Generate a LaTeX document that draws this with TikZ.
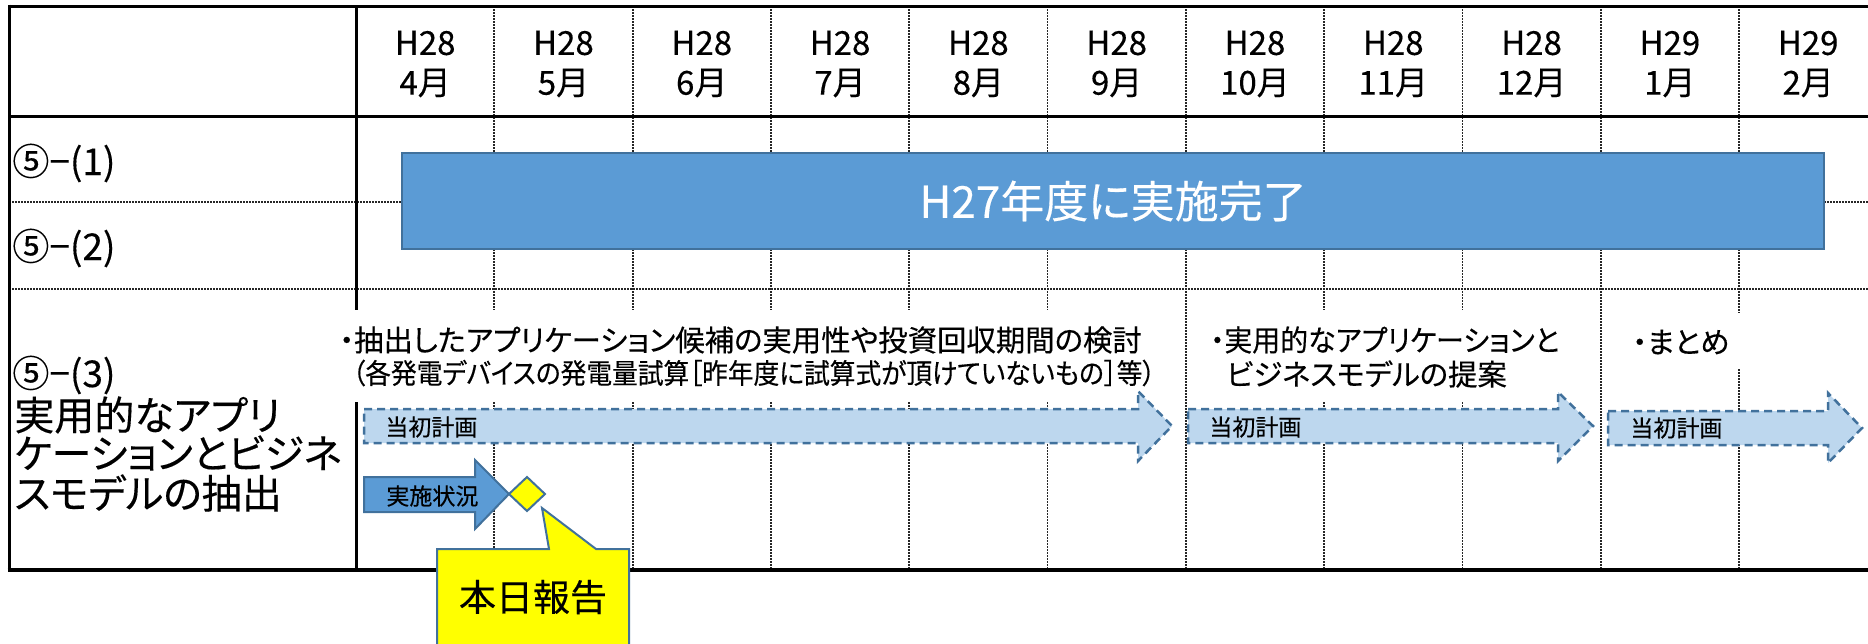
\documentclass[tikz,border=0pt]{standalone}
\usepackage{fontspec}
\setmainfont{Noto Sans CJK JP}[RawFeature=+palt,FakeBold=0.3]
\definecolor{boxblue}{HTML}{5B9BD5}
\definecolor{edgeblue}{HTML}{41719C}
\definecolor{planfill}{HTML}{BDD7EE}
\definecolor{callyellow}{HTML}{FFFF00}
\begin{document}
\begin{tikzpicture}[x=0.5pt,y=-0.5pt,
  border/.style={line width=1.5pt,black},
  gridline/.style={line width=0.9pt,black!85,dash pattern=on 0.75pt off 0.75pt},
  hdr/.style={inner sep=0pt,font=\fontsize{16.5}{18}\selectfont},
  lbl/.style={inner sep=0pt,anchor=west,font=\fontsize{18.5}{20}\selectfont},
  biglbl/.style={inner sep=0pt,anchor=west,font=\fontsize{20}{24}\selectfont},
  task/.style={inner sep=0pt,anchor=west,font=\fontsize{14.7}{17}\selectfont},
  arrlbl/.style={inner sep=0pt,anchor=west,font=\fontsize{11.5}{13}\selectfont},
  planarrow/.style={fill=planfill,draw=edgeblue,line width=1.25pt,dash pattern=on 4pt off 2.5pt},
  statarrow/.style={fill=boxblue,draw=edgeblue,line width=1pt},
  yellowshape/.style={fill=callyellow,draw=edgeblue,line width=1pt},
]
\useasboundingbox (0,0) rectangle (1868,643);
\fill[white] (0,0) rectangle (1868,643);
% grid
\foreach \k in {1,...,10} \draw[gridline] ({356+138.3*\k},6) -- ({356+138.3*\k},570);
\draw[gridline] (9,202) -- (1868,202);
\draw[gridline] (9,289) -- (1868,289);
\draw[border] (356,6) -- (356,570);
% white text backgrounds
\fill[white] (335,310) rectangle (1172,402);
\fill[white] (1192,310) rectangle (1570,402);
\fill[white] (1612,313) rectangle (1750,368);
% borders
\draw[border] (9,6) -- (1868,6);
\draw[border] (9,116) -- (1868,116);
\draw[border] (9,4.5) -- (9,571);
\draw[line width=2pt] (7.5,570) -- (1868,570);
% header
\foreach \yy/\mm [count=\i] in {H28/4月,H28/5月,H28/6月,H28/7月,H28/8月,H28/9月,H28/10月,H28/11月,H28/12月,H29/1月,H29/2月}{
  \node[hdr] (yr\i) at ({356+138.3*(\i-0.5)},43) {\yy};
  \node[hdr] (mo\i) at ({356+138.3*(\i-0.5)},83) {\mm};
}
% left labels
\node[lbl] (l1) at (12,163) {⑤−(1)};
\node[lbl] (l2) at (12,248) {⑤−(2)};
\node[lbl] (l3) at (12,375) {⑤−(3)};
\node[biglbl] (l3a) at (14,415) {実用的なアプリ};
\node[biglbl] (l3b) at (14,453) {ケーションとビジネ};
\node[biglbl] (l3c) at (14,493) {スモデルの抽出};
% done box
\node[fill=boxblue,draw=edgeblue,line width=1pt,anchor=north west,minimum width=711pt,minimum height=48pt,inner sep=0pt,text=white,font=\fontsize{22}{24}\selectfont] (done) at (401,152) {H27年度に実施完了};
% task texts
\node[task] (t1) at (339,340) {・抽出したアプリケーション候補の実用性や投資回収期間の検討};
\node[task] (t2) at (352,373) {\scalebox{0.875}[0.95]{（各発電デバイスの発電量試算［昨年度に試算式が頂けていないもの］等）}};
\node[task] (t3) at (1210,340) {\scalebox{0.95}[1]{・実用的なアプリケーションと}};
\node[task] (t4) at (1226,374) {ビジネスモデルの提案};
\node[task] (t5) at (1632,342) {・まとめ};
% plan arrows
\draw[planarrow] (364,409) -- (1138,409) -- (1138,391) -- (1172,426) -- (1138,461) -- (1138,443) -- (364,443) -- cycle;
\draw[planarrow] (1188,409) -- (1558,409) -- (1558,392) -- (1593,426) -- (1558,461) -- (1558,443) -- (1188,443) -- cycle;
\draw[planarrow] (1608,411) -- (1828,411) -- (1828,393) -- (1862,428) -- (1828,463) -- (1828,445) -- (1608,445) -- cycle;
\node[arrlbl] (p1) at (385,427) {当初計画};
\node[arrlbl] (p2) at (1209,427) {当初計画};
\node[arrlbl] (p3) at (1630,428) {当初計画};
% status arrow
\draw[statarrow] (364,477) -- (475,477) -- (475,460) -- (509,494) -- (475,529) -- (475,512) -- (364,512) -- cycle;
\node[arrlbl] (s1) at (386,496) {実施状況};
% diamond
\draw[yellowshape] (527,477) -- (545,494) -- (527,511) -- (509,494) -- cycle;
% callout
\draw[yellowshape] (437,549) -- (549,549) -- (542,508) -- (596,549) -- (629,549) -- (629,650) -- (437,650) -- cycle;
\node[inner sep=0pt,font=\fontsize{18.5}{20}\selectfont] (rep) at (533,597) {本日報告};
\end{tikzpicture}
\end{document}
